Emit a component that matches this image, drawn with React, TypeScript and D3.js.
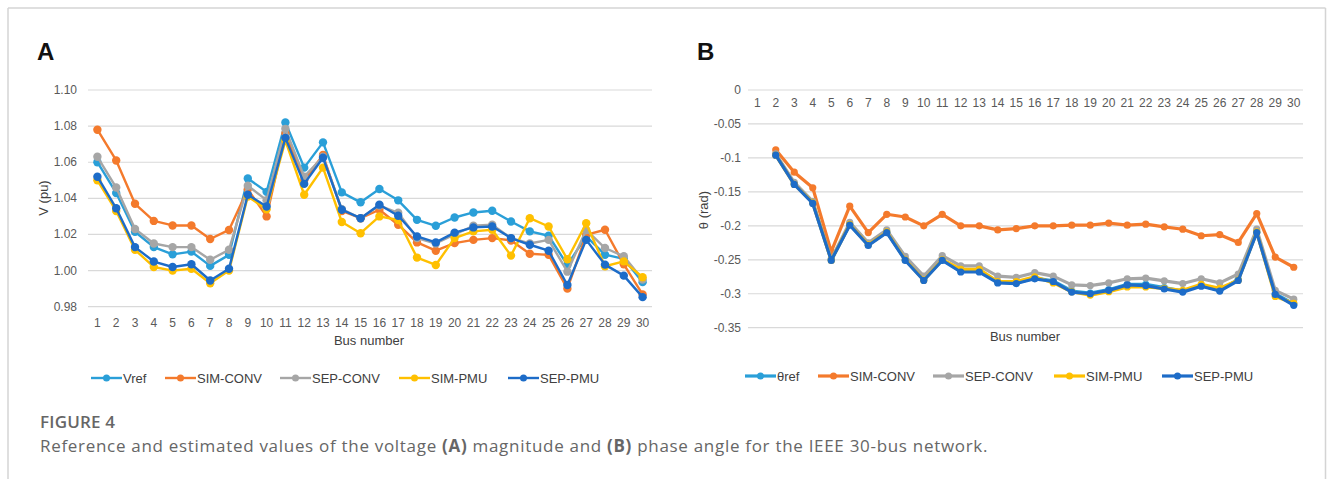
import React from "react";
import * as d3 from "d3";

// bus numbers (categories)
const buses = [1, 2, 3, 4, 5, 6, 7, 8, 9, 10, 11, 12, 13, 14, 15, 16, 17, 18, 19, 20, 21, 22, 23, 24, 25, 26, 27, 28, 29, 30];

// panel A : voltage magnitude (pu)
const vRef = [1.060, 1.043, 1.0215, 1.013, 1.009, 1.0105, 1.0026, 1.0087, 1.051, 1.0436, 1.082, 1.057, 1.071, 1.0433, 1.0378, 1.0452, 1.0389, 1.0281, 1.0248, 1.0294, 1.0322, 1.0331, 1.0272, 1.0217, 1.0193, 1.0031, 1.019, 1.0088, 1.0065, 0.9936];
const vSimConv = [1.078, 1.061, 1.037, 1.0275, 1.025, 1.025, 1.0175, 1.0225, 1.045, 1.030, 1.076, 1.050, 1.064, 1.033, 1.029, 1.0337, 1.0254, 1.0156, 1.011, 1.0152, 1.017, 1.018, 1.0167, 1.0093, 1.0087, 0.990, 1.0198, 1.0226, 1.0035, 0.9868];
const vSepConv = [1.063, 1.046, 1.023, 1.015, 1.013, 1.013, 1.006, 1.0115, 1.047, 1.039, 1.0785, 1.052, 1.063, 1.034, 1.029, 1.036, 1.032, 1.018, 1.015, 1.020, 1.0248, 1.0254, 1.018, 1.015, 1.017, 0.9994, 1.0225, 1.0125, 1.0079, 0.995];
const vSimPmu = [1.050, 1.033, 1.0115, 1.002, 1.000, 1.001, 0.993, 1.000, 1.041, 1.034, 1.072, 1.042, 1.057, 1.0269, 1.0207, 1.030, 1.028, 1.0072, 1.0031, 1.018, 1.0217, 1.0226, 1.0083, 1.029, 1.0244, 1.0063, 1.0262, 1.0024, 1.0051, 0.9963];
const vSepPmu = [1.052, 1.0345, 1.013, 1.005, 1.002, 1.0035, 0.9945, 1.001, 1.042, 1.0355, 1.0735, 1.048, 1.0625, 1.0337, 1.029, 1.0365, 1.0304, 1.0189, 1.0156, 1.021, 1.0239, 1.0244, 1.018, 1.0143, 1.011, 0.992, 1.017, 1.0033, 0.9972, 0.9853];

// panel B : phase angle (rad), bus 1 is the slack bus (no point)
const thRef = [null, -0.095, -0.138, -0.166, -0.25, -0.198, -0.228, -0.209, -0.25, -0.279, -0.25, -0.266, -0.266, -0.283, -0.284, -0.277, -0.281, -0.296, -0.299, -0.294, -0.286, -0.286, -0.291, -0.296, -0.288, -0.295, -0.279, -0.209, -0.3, -0.315];
const thSimConv = [null, -0.088, -0.121, -0.144, -0.238, -0.171, -0.21, -0.183, -0.187, -0.2, -0.183, -0.2, -0.2, -0.206, -0.204, -0.2, -0.2, -0.199, -0.199, -0.196, -0.199, -0.1975, -0.2015, -0.205, -0.2146, -0.213, -0.2244, -0.182, -0.246, -0.261];
const thSepConv = [null, -0.094, -0.136, -0.164, -0.249, -0.195, -0.225, -0.206, -0.245, -0.274, -0.244, -0.259, -0.259, -0.274, -0.276, -0.269, -0.274, -0.287, -0.288, -0.284, -0.278, -0.277, -0.281, -0.285, -0.278, -0.284, -0.271, -0.205, -0.295, -0.308];
const thSimPmu = [null, -0.096, -0.139, -0.166, -0.251, -0.198, -0.228, -0.209, -0.25, -0.28, -0.25, -0.264, -0.264, -0.282, -0.282, -0.275, -0.284, -0.297, -0.302, -0.297, -0.29, -0.29, -0.292, -0.295, -0.286, -0.292, -0.28, -0.209, -0.304, -0.314];
const thSepPmu = [null, -0.096, -0.139, -0.167, -0.251, -0.199, -0.229, -0.21, -0.251, -0.2805, -0.251, -0.268, -0.268, -0.284, -0.285, -0.278, -0.282, -0.2975, -0.3, -0.295, -0.287, -0.288, -0.293, -0.2976, -0.289, -0.296, -0.2805, -0.21, -0.301, -0.317];

const seriesNames = ["SIM-CONV", "SEP-CONV", "SIM-PMU", "SEP-PMU"];
const colors = ["#2a9fd8", "#f47a2c", "#a6a6a6", "#ffc000", "#1d6cc8"];

const vTicks = [0.98, 1.0, 1.02, 1.04, 1.06, 1.08, 1.1];
const thTicks = [0, -0.05, -0.1, -0.15, -0.2, -0.25, -0.3, -0.35];

const FONT = "'Liberation Sans', Arial, sans-serif";
const CAP = "'Open Sans', 'Noto Sans', sans-serif";
const TICK = "#595959";

type Cfg = {
  series: (number | null)[][];
  names: string[];
  x0: number; x1: number;
  yTop: number; yBot: number;
  domain: [number, number];
  ticks: number[];
  fmt: (v: number) => string;
  tickRight: number;
  xLabY: number;
  busX: number; busY: number;
  yLab: string; yLabX: number; yLabY: number;
  letter: string; letterX: number;
  lw: number; r: number;
  legendX: number[]; legendY: number;
};

function Panel({ c }: { c: Cfg }) {
  const x = d3.scaleBand<number>().domain(buses).range([c.x0, c.x1]);
  const y = d3.scaleLinear().domain(c.domain).range([c.yBot, c.yTop]);
  const cx = (b: number) => (x(b) as number) + x.bandwidth() / 2;
  const line = d3.line<[number, number | null]>()
    .defined(d => d[1] != null)
    .x(d => cx(d[0]))
    .y(d => y(d[1] as number));
  return (
    <g>
      <text x={c.letterX} y={60} fontFamily={FONT} fontWeight="bold" fontSize={24} fill="#111">{c.letter}</text>
      {c.ticks.map(t => (
        <g key={t}>
          <line x1={c.x0} x2={c.x1} y1={y(t)} y2={y(t)} stroke="#d9d9d9" strokeWidth={1.2} />
          <text x={c.tickRight} y={y(t) + 4} textAnchor="end" fontFamily={FONT} fontSize={12} fill={TICK}>{c.fmt(t)}</text>
        </g>
      ))}
      {buses.map(b => (
        <text key={b} x={cx(b)} y={c.xLabY} textAnchor="middle" fontFamily={FONT} fontSize={12} fill={TICK}>{b}</text>
      ))}
      <text x={c.busX} y={c.busY} textAnchor="middle" fontFamily={FONT} fontSize={13} fill="#404040">Bus number</text>
      <text transform={`translate(${c.yLabX},${c.yLabY}) rotate(-90)`} textAnchor="middle" fontFamily={FONT} fontSize={13} fill="#404040">{c.yLab}</text>
      {c.series.map((s, i) => {
        const pts = buses.map((b, k) => [b, s[k]] as [number, number | null]);
        return (
          <g key={i}>
            <path d={line(pts) || ""} fill="none" stroke={colors[i]} strokeWidth={c.lw} strokeLinejoin="round" />
            {pts.filter(p => p[1] != null).map(p => (
              <circle key={p[0]} cx={cx(p[0])} cy={y(p[1] as number)} r={c.r} fill={colors[i]} />
            ))}
          </g>
        );
      })}
      {c.names.map((n, i) => (
        <g key={n} transform={`translate(${c.legendX[i]},${c.legendY})`}>
          <line x1={0} x2={31} y1={0} y2={0} stroke={colors[i]} strokeWidth={c.lw} />
          <circle cx={15.5} cy={0} r={3.5} fill={colors[i]} />
          <text x={32} y={4.5} fontFamily={FONT} fontSize={13} fill="#404040">{n}</text>
        </g>
      ))}
    </g>
  );
}

export default function App() {
  const a: Cfg = {
    series: [vRef, vSimConv, vSepConv, vSimPmu, vSepPmu],
    names: ["Vref", ...seriesNames],
    x0: 88, x1: 652, yTop: 90, yBot: 306.7,
    domain: [0.98, 1.1], ticks: vTicks, fmt: d3.format(".2f"),
    tickRight: 77, xLabY: 327,
    busX: 369, busY: 345,
    yLab: "V (pu)", yLabX: 48, yLabY: 198,
    letter: "A", letterX: 37,
    lw: 2.4, r: 4.2,
    legendX: [91, 165, 280, 399, 508], legendY: 378,
  };
  const b: Cfg = {
    series: [thRef, thSimConv, thSepConv, thSimPmu, thSepPmu],
    names: ["θref", ...seriesNames],
    x0: 748, x1: 1303, yTop: 327.7, yBot: 90,
    domain: [0, -0.35], ticks: thTicks, fmt: (v: number) => (v === 0 ? "0" : String(v)),
    tickRight: 741, xLabY: 107,
    busX: 1025, busY: 341,
    yLab: "θ (rad)", yLabX: 708, yLabY: 210,
    letter: "B", letterX: 697,
    lw: 3.2, r: 3.6,
    legendX: [745, 818, 933, 1054, 1162], legendY: 376,
  };
  return (
    <svg width={1333} height={479} style={{ position: "absolute", left: 0, top: 0, background: "#fff" }}>
      <rect x={0} y={0} width={1333} height={479} fill="#fff" />
      <line x1={8} x2={8} y1={8} y2={479} stroke="#d4d4d4" strokeWidth={1.5} />
      <line x1={1325.5} x2={1325.5} y1={8} y2={479} stroke="#d4d4d4" strokeWidth={1.5} />
      <line x1={8} x2={1325.5} y1={8} y2={8} stroke="#d4d4d4" strokeWidth={1.5} />
      <Panel c={a} />
      <Panel c={b} />
      <text x={40} y={428} fontFamily={CAP} fontSize={17} fontWeight={600} fill="#666" letterSpacing={0.2}>FIGURE 4</text>
      <text x={40} y={452} fontFamily={CAP} fontSize={17} fill="#666" letterSpacing={0.7}>
        Reference and estimated values of the voltage <tspan fontWeight="bold">(A)</tspan> magnitude and <tspan fontWeight="bold">(B)</tspan> phase angle for the IEEE 30-bus network.
      </text>
    </svg>
  );
}
